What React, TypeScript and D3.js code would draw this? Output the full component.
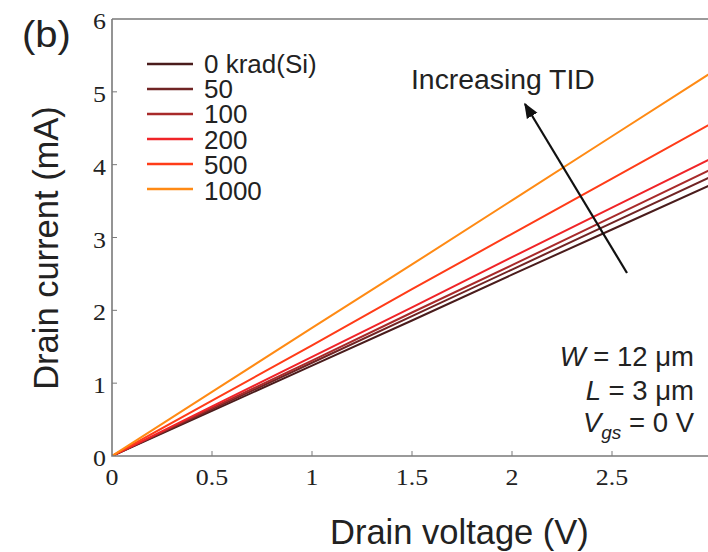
import React from "react";
import * as d3 from "d3";

const voltages = [0, 0.5, 1, 1.5, 2, 2.5, 3];
const doseLabels = ["0 krad(Si)", "50", "100", "200", "500", "1000"];
const current0 = [0, 0.62, 1.24, 1.86, 2.49, 3.11, 3.73];
const current50 = [0, 0.64, 1.28, 1.92, 2.56, 3.2, 3.84];
const current100 = [0, 0.66, 1.31, 1.97, 2.62, 3.28, 3.94];
const current200 = [0, 0.68, 1.36, 2.04, 2.73, 3.41, 4.09];
const current500 = [0, 0.76, 1.52, 2.29, 3.05, 3.81, 4.57];
const current1000 = [0, 0.88, 1.76, 2.63, 3.51, 4.39, 5.27];
const seriesColors = ["#4a1c1c", "#702424", "#a82a2a", "#f02428", "#ff3c18", "#ff8a14"];
const xTicks = [0, 0.5, 1, 1.5, 2, 2.5];
const yTicks = [0, 1, 2, 3, 4, 5, 6];

const allSeries = [current0, current50, current100, current200, current500, current1000];

type TProps = {
  x: number;
  y: number;
  sx?: number;
  size: number;
  family: string;
  anchor?: "start" | "middle" | "end";
  children: React.ReactNode;
};
function T({ x, y, sx = 1, size, family, anchor = "start", children }: TProps) {
  return (
    <text
      transform={`translate(${x},${y}) scale(${sx},1)`}
      textAnchor={anchor}
      fontFamily={family}
      fontSize={size}
      fill="#222"
    >
      {children}
    </text>
  );
}

export default function App() {
  const W = 708, H = 552;
  const x = d3.scaleLinear().domain([0, 3]).range([112, 712]);
  const y = d3.scaleLinear().domain([0, 6]).range([456, 19]);
  const line = d3
    .line<number>()
    .x((_, i) => x(voltages[i]))
    .y((d) => y(d));
  const axisColor = "#7a7a7a";
  const serif = "'Liberation Serif', 'Times New Roman', serif";
  const sans = "'Liberation Sans', Arial, sans-serif";

  return (
    <svg width={W} height={H} style={{ position: "absolute", left: 0, top: 0, background: "#fff" }}>
      <defs>
        <clipPath id="plotclip">
          <rect x={112} y={19} width={600} height={437} />
        </clipPath>
        <marker id="arrowhead" viewBox="0 0 10 10" refX="9" refY="5" markerWidth="7" markerHeight="7" orient="auto">
          <path d="M0,1 L10,5 L0,9 Z" fill="#111" />
        </marker>
      </defs>
      <rect x={0} y={0} width={W} height={H} fill="#fff" />

      {/* series */}
      <g clipPath="url(#plotclip)">
        {allSeries.map((s, i) => (
          <path key={i} d={line(s) || ""} fill="none" stroke={seriesColors[i]} strokeWidth={2} />
        ))}
      </g>

      {/* frame */}
      <path d={`M${x(0)},${y(6)} H${W} M${x(0)},${y(6)} V${y(0)} H${W}`} fill="none" stroke={axisColor} strokeWidth={1.6} />

      {/* ticks */}
      {xTicks.map((t) => (
        <g key={"x" + t}>
          {t > 0 && <line x1={x(t)} x2={x(t)} y1={y(0)} y2={y(0) - 5} stroke={axisColor} strokeWidth={1} />}
          <T x={x(t)} y={y(0) + 29} size={24} sx={1.08} family={serif} anchor="middle">
            {t}
          </T>
        </g>
      ))}
      {yTicks.map((t) => (
        <g key={"y" + t}>
          {t > 0 && t < 6 && <line x1={x(0)} x2={x(0) + 5} y1={y(t)} y2={y(t)} stroke={axisColor} strokeWidth={1} />}
          <T x={x(0) - 6} y={y(t) + 10} size={24} sx={1.08} family={serif} anchor="end">
            {t}
          </T>
        </g>
      ))}

      {/* axis titles */}
      <T x={330} y={544} size={34.5} family={sans}>
        Drain voltage (V)
      </T>
      <text transform="translate(58,248) rotate(-90)" textAnchor="middle" fontFamily={sans} fontSize={34.5} fill="#222">
        Drain current (mA)
      </text>
      <T x={22} y={47} size={37} sx={1.08} family={sans}>(b)</T>

      {/* legend */}
      {doseLabels.map((lab, i) => (
        <g key={lab}>
          <line x1={147} x2={193} y1={64 + i * 25} y2={64 + i * 25} stroke={seriesColors[i]} strokeWidth={2.5} />
          <T x={204} y={64 + i * 25.4 + 8.5} size={25} sx={1.04} family={sans}>
            {lab}
          </T>
        </g>
      ))}

      {/* arrow annotation */}
      <line x1={627} y1={273} x2={525} y2={104} stroke="#111" strokeWidth={2.2} markerEnd="url(#arrowhead)" />
      <T x={411} y={89} size={27} sx={1.05} family={sans}>Increasing TID</T>

      {/* parameters */}
      <T x={694} y={366} size={27.5} family={sans} anchor="end">
        <tspan fontStyle="italic">W</tspan> = 12 μm
      </T>
      <T x={694} y={400} size={27.5} family={sans} anchor="end">
        <tspan fontStyle="italic">L</tspan> = 3 μm
      </T>
      <T x={694} y={432} size={27.5} family={sans} anchor="end">
        <tspan fontStyle="italic">V</tspan>
        <tspan fontStyle="italic" fontSize={19} dy={7}>gs</tspan>
        <tspan dy={-7}> = 0 V</tspan>
      </T>
    </svg>
  );
}
